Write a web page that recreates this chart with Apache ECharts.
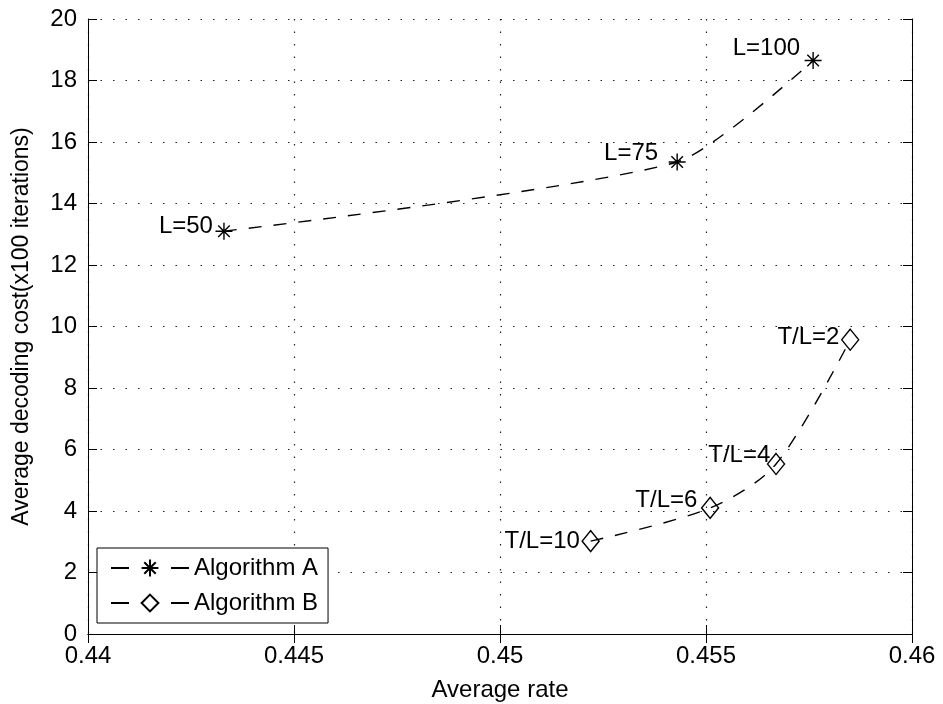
<!DOCTYPE html>
<html>
<head>
<meta charset="utf-8">
<script src="https://cdn.jsdelivr.net/npm/echarts@6/dist/echarts.min.js"></script>
<style>
  html, body { margin: 0; padding: 0; background: #fff; }
  #chart { width: 943px; height: 704px; }
</style>
</head>
<body>
<div id="chart"></div>
<script>
// Algorithm A: varying L
const rateA = [0.4433, 0.4543, 0.4576]
const costA = [13.1, 15.35, 18.65]
const namesA = ['L=50', 'L=75', 'L=100']

// Algorithm B: varying T/L
const rateB = [0.4522, 0.4551, 0.4567, 0.4585]
const costB = [3.02, 4.1, 5.53, 9.57]
const namesB = ['T/L=10', 'T/L=6', 'T/L=4', 'T/L=2']

const xTicks = [0.44, 0.445, 0.45, 0.455, 0.46]
const yTicks = [0, 2, 4, 6, 8, 10, 12, 14, 16, 18, 20]

const FONT = '"Liberation Sans", Arial, sans-serif'
const STAR = 'path://M5,0L5,10M0,5L10,5M1.6,1.6L8.4,8.4M1.6,8.4L8.4,1.6'

// label placement next to each marker [distance, offsetY]
const labelPosA = [[0, -5], [8, -9], [2, -12]]
const labelPosB = [[0, 0], [2, -8], [-5, -9], [0, -2]]

function buildData(xs, ys, names, pos) {
  return xs.map((x, i) => ({
    value: [x, ys[i]],
    name: names[i],
    label: { distance: pos[i][0], offset: [0, pos[i][1]] }
  }))
}

const chart = echarts.init(document.getElementById('chart'))

const axisCommon = {
  axisLine: { show: true, lineStyle: { color: '#000', width: 1 } },
  axisTick: { show: true, inside: true, length: 9, lineStyle: { color: '#000' } }
}

const pointLabel = {
  show: true,
  position: 'left',
  formatter: p => p.name,
  color: '#000',
  fontSize: 24,
  fontFamily: FONT
}

chart.setOption({
  animation: false,
  backgroundColor: '#fff',
  textStyle: { fontFamily: FONT },
  grid: { left: 88, right: 31, top: 19, bottom: 70, containLabel: false, outerBoundsMode: 'none' },
  legend: {
    orient: 'vertical',
    left: 97,
    top: 548,
    padding: [8, 10, 8, 13],
    backgroundColor: '#fff',
    borderColor: '#000',
    borderWidth: 1,
    borderRadius: 0,
    itemWidth: 78,
    itemHeight: 21,
    itemGap: 11,
    textStyle: { color: '#000', fontSize: 24, fontFamily: FONT, lineHeight: 24 },
    data: [
      { name: 'Algorithm A', lineStyle: { type: [18, 42] } },
      { name: 'Algorithm B', lineStyle: { type: [18, 42] } }
    ]
  },
  xAxis: [
    {
      type: 'value',
      min: xTicks[0],
      max: xTicks[xTicks.length - 1],
      interval: 0.005,
      name: 'Average rate',
      nameLocation: 'middle',
      nameGap: 44,
      nameTextStyle: { color: '#000', fontSize: 24, fontFamily: FONT },
      ...axisCommon,
      axisLabel: {
        color: '#000', fontSize: 24, fontFamily: FONT, margin: 10,
        formatter: v => String(parseFloat(v.toFixed(3)))
      },
      splitLine: { show: true, lineStyle: { color: '#222', width: 1.2, type: [1.5, 11] } }
    },
    {
      type: 'value',
      position: 'top',
      min: xTicks[0],
      max: xTicks[xTicks.length - 1],
      interval: 0.005,
      ...axisCommon,
      axisLabel: { show: false },
      splitLine: { show: false }
    }
  ],
  yAxis: [
    {
      type: 'value',
      min: yTicks[0],
      max: yTicks[yTicks.length - 1],
      interval: 2,
      name: 'Average decoding cost(x100 iterations)',
      nameLocation: 'middle',
      nameGap: 55,
      nameTextStyle: { color: '#000', fontSize: 23, fontFamily: FONT },
      ...axisCommon,
      axisLabel: { color: '#000', fontSize: 24, fontFamily: FONT, margin: 11 },
      splitLine: { show: true, lineStyle: { color: '#222', width: 1.2, type: [1.5, 11] } }
    },
    {
      type: 'value',
      position: 'right',
      min: yTicks[0],
      max: yTicks[yTicks.length - 1],
      interval: 2,
      ...axisCommon,
      axisLabel: { show: false },
      splitLine: { show: false }
    }
  ],
  series: [
    {
      name: 'Algorithm A',
      type: 'line',
      smooth: 0.22,
      symbol: STAR,
      symbolSize: 17,
      symbolKeepAspect: true,
      itemStyle: { color: 'none', borderColor: '#000', borderWidth: 1.4 },
      lineStyle: { color: '#000', width: 1.4, type: [13, 12] },
      label: pointLabel,
      data: buildData(rateA, costA, namesA, labelPosA)
    },
    {
      name: 'Algorithm B',
      type: 'line',
      smooth: 0.3,
      symbol: 'diamond',
      symbolSize: [17, 21],
      itemStyle: { color: 'none', borderColor: '#000', borderWidth: 1.4 },
      lineStyle: { color: '#000', width: 1.4, type: [13, 12] },
      label: pointLabel,
      data: buildData(rateB, costB, namesB, labelPosB)
    }
  ]
})
</script>
</body>
</html>
